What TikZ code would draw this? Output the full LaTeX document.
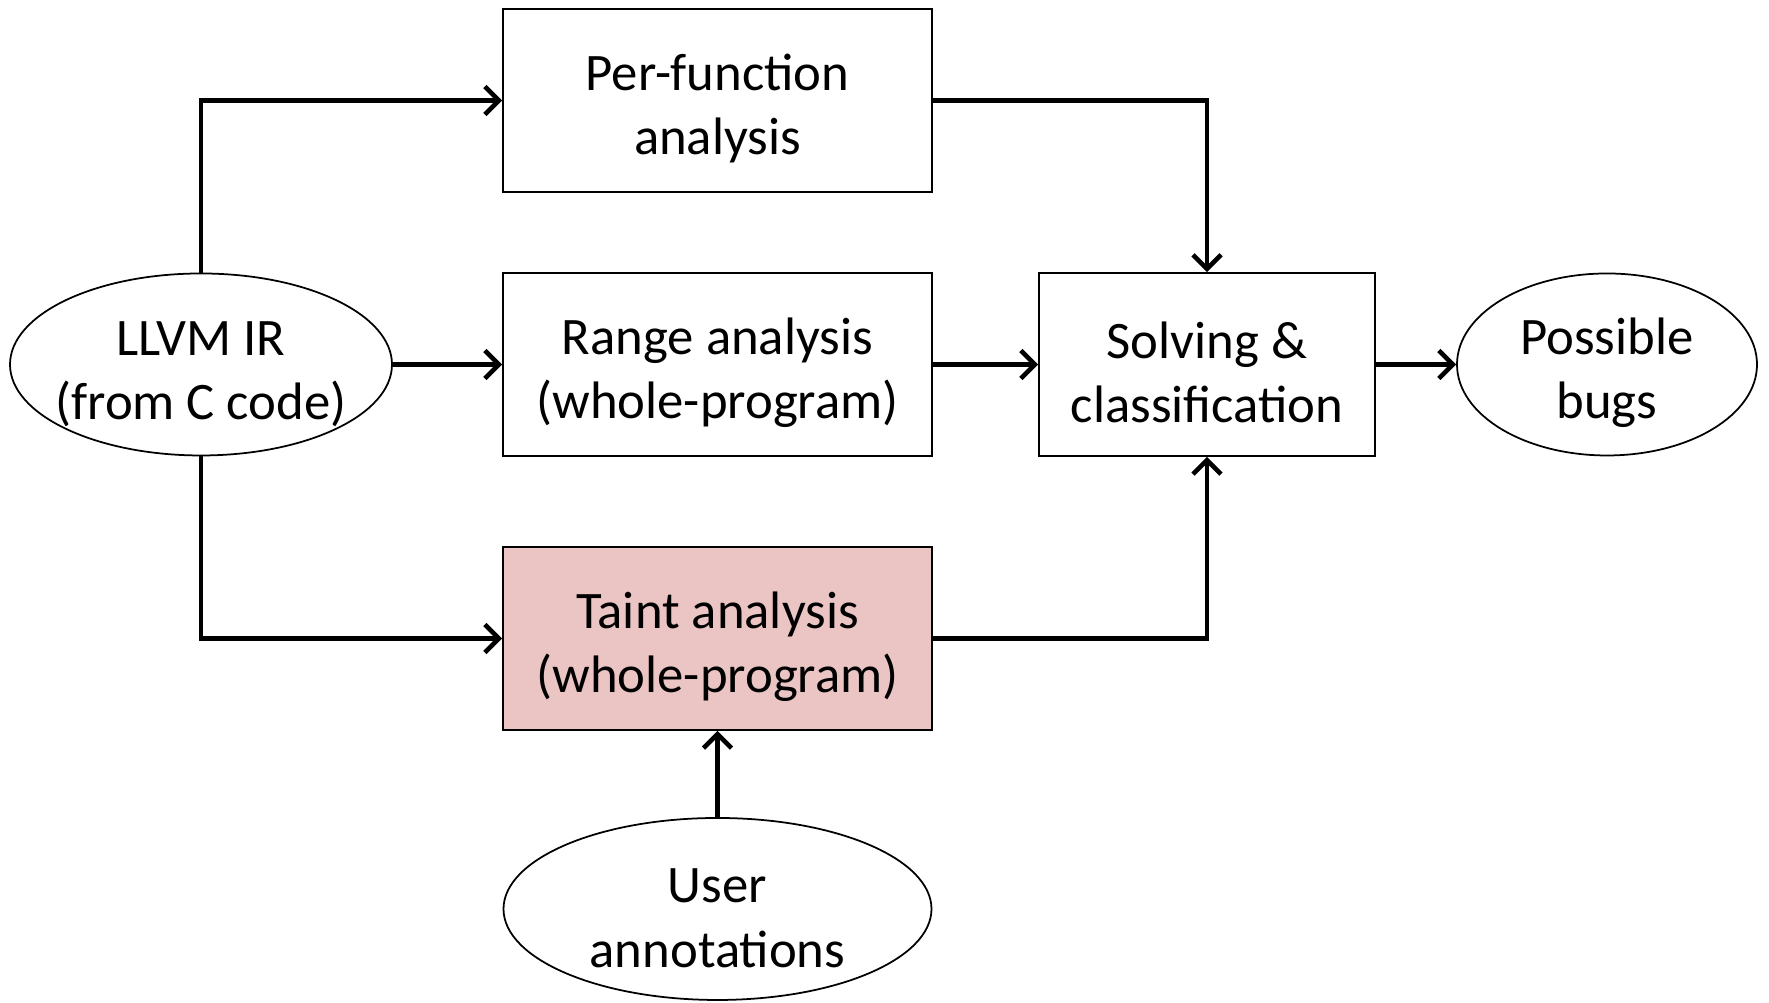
\documentclass[tikz,border=0pt]{standalone}
\usepackage{fontspec}
\setmainfont{Carlito}
\usepackage{xcolor}
\usepackage{tikz}
\usetikzlibrary{arrows.meta,shapes.geometric}

\definecolor{taintpink}{RGB}{235,196,196}
\newcommand{\topstrut}{\rule{0pt}{15pt}}

\begin{document}
\begin{tikzpicture}[
  box/.style={draw,line width=0.5pt,minimum height=1.83cm,inner sep=0pt,
    align=center,font=\fontsize{15}{18.3}\selectfont},
  blob/.style={ellipse,draw,line width=0.5pt,minimum height=1.82cm,
    inner xsep=-2mm,inner ysep=0pt,align=center,font=\fontsize{15}{18.3}\selectfont},
  flow/.style={line width=1.3pt,-{Straight Barb[length=4pt,width=8pt]}}
]
  \useasboundingbox (0,0) rectangle (17.69,10.03);

  % inputs
  \node[blob,minimum width=3.82cm] (llvm) at (2.01,6.385) {\topstrut LLVM IR\\(from C code)};
  \node[blob,minimum width=4.28cm] (user) at (7.175,0.94) {\topstrut User\\annotations};

  % analyses
  \node[box,minimum width=4.29cm] (perfn) at (7.175,9.025) {\topstrut Per-function\\analysis};
  \node[box,minimum width=4.29cm] (range) at (7.175,6.385) {\topstrut Range analysis\\(whole-program)};
  \node[box,minimum width=4.29cm,fill=taintpink] (taint) at (7.175,3.645) {\topstrut Taint analysis\\(whole-program)};

  % output
  \node[box,minimum width=3.36cm] (solve) at (12.07,6.385) {\topstrut Solving \&\\classification};
  \node[blob,minimum width=3.0cm] (bugs) at (16.07,6.385) {\topstrut Possible\\bugs};

  \draw[flow] (llvm.north) |- (perfn.west);
  \draw[flow] (llvm.east) -- (range.west);
  \draw[flow] (llvm.south) |- (taint.west);
  \draw[flow] (user.north) -- (taint.south);
  \draw[flow] (perfn.east) -| (solve.north);
  \draw[flow] (range.east) -- (solve.west);
  \draw[flow] (taint.east) -| (solve.south);
  \draw[flow] (solve.east) -- (bugs.west);
\end{tikzpicture}
\end{document}
